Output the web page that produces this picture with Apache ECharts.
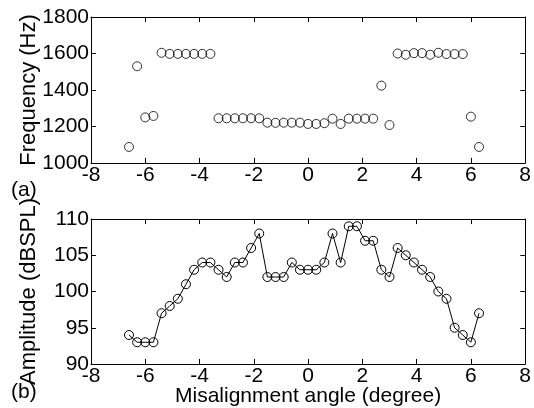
<!DOCTYPE html>
<html>
<head>
<meta charset="utf-8">
<script src="https://cdn.jsdelivr.net/npm/echarts@6/dist/echarts.min.js"></script>
<style>
  html, body { margin: 0; padding: 0; background: #fff; }
  #chart { width: 534px; height: 408px; }
</style>
</head>
<body>
<div id="chart"></div>
<script>
// misalignment angle (degree)
const angles = [-6.6, -6.3, -6.0, -5.7, -5.4, -5.1, -4.8, -4.5, -4.2, -3.9, -3.6,
  -3.3, -3.0, -2.7, -2.4, -2.1, -1.8, -1.5, -1.2, -0.9, -0.6, -0.3,
  0, 0.3, 0.6, 0.9, 1.2, 1.5, 1.8, 2.1, 2.4, 2.7, 3.0,
  3.3, 3.6, 3.9, 4.2, 4.5, 4.8, 5.1, 5.4, 5.7, 6.0, 6.3]

// (a) frequency, Hz
const frequency = [1088, 1530, 1250, 1258, 1604, 1598, 1598, 1598, 1598, 1598, 1598,
  1245, 1245, 1245, 1245, 1245, 1245, 1221, 1220, 1221, 1221, 1221,
  1214, 1214, 1218, 1243, 1214, 1243, 1243, 1243, 1243, 1424, 1208,
  1600, 1593, 1602, 1602, 1593, 1604, 1597, 1597, 1597, 1254, 1088]

// (b) amplitude, dBSPL
const amplitude = [94, 93, 93, 93, 97, 98, 99, 101, 103, 104, 104,
  103, 102, 104, 104, 106, 108, 102, 102, 102, 104, 103,
  103, 103, 104, 108, 104, 109, 109, 107, 107, 103, 102,
  106, 105, 104, 103, 102, 100, 99, 95, 94, 93, 97]

// tick positions
const angleTicks = [-6, -4, -2, 0, 2, 4, 6]
const freqTicks = [1200, 1400, 1600]
const ampTicks = [95, 100, 105]

const FONT = 'Liberation Sans, Arial, Helvetica, sans-serif'
const FS = 21
// inward tick length (~5px) expressed in each axis' units
const TICK_ANGLE = 0.18
const TICK_FREQ = 28
const TICK_AMP = 0.7

const chart = echarts.init(document.getElementById('chart'))

function axis(gridIndex, position, min, max, interval, opts) {
  const o = opts || {}
  return {
    type: 'value',
    gridIndex,
    position,
    min,
    max,
    interval,
    name: o.name || '',
    nameLocation: 'middle',
    nameGap: o.nameGap,
    nameMoveOverlap: false,
    nameTextStyle: { color: '#000', fontSize: position === 'left' ? 22 : FS, fontFamily: FONT },
    axisLine: { show: true, onZero: false, lineStyle: { color: '#000', width: 1 } },
    axisTick: { show: false },
    axisLabel: { show: !!o.labels, color: '#000', fontSize: FS, fontFamily: FONT, margin: 2, formatter: v => String(v) },
    splitLine: { show: false }
  }
}

// box ticks pointing into the plot on all four sides
function boxTicks(yMin, yMax, yTicks, yLen) {
  const d = []
  angleTicks.forEach(t => {
    d.push([{ coord: [t, yMin] }, { coord: [t, yMin + yLen] }])
    d.push([{ coord: [t, yMax] }, { coord: [t, yMax - yLen] }])
  })
  yTicks.forEach(v => {
    d.push([{ coord: [-8, v] }, { coord: [-8 + TICK_ANGLE, v] }])
    d.push([{ coord: [8, v] }, { coord: [8 - TICK_ANGLE, v] }])
  })
  return {
    silent: true,
    symbol: 'none',
    label: { show: false },
    lineStyle: { color: '#000', width: 1, type: 'solid' },
    data: d
  }
}

const xAxes = []
;[0, 1].forEach(g => {
  xAxes.push(axis(g, 'bottom', -8, 8, 2, {
    labels: true,
    name: g === 1 ? 'Misalignment angle (degree)' : '',
    nameGap: 22
  }))
  xAxes.push(axis(g, 'top', -8, 8, 2))
})

const yAxes = [
  axis(0, 'left', 1000, 1800, 200, { labels: true, name: 'Frequency (Hz)', nameGap: 51 }),
  axis(0, 'right', 1000, 1800, 200),
  axis(1, 'left', 90, 110, 5, { labels: true, name: 'Amplitude (dBSPL)', nameGap: 51 }),
  axis(1, 'right', 90, 110, 5)
]

const option = {
  animation: false,
  backgroundColor: '#fff',
  grid: [
    { left: 91, right: 4, top: 17, height: 146 },
    { left: 91, right: 4, top: 219, height: 145 }
  ],
  xAxis: xAxes,
  yAxis: yAxes,
  graphic: [
    { type: 'text', left: 11, top: 180, style: { text: '(a)', fill: '#000', fontSize: FS, fontFamily: FONT } },
    { type: 'text', left: 11, top: 382, style: { text: '(b)', fill: '#000', fontSize: FS, fontFamily: FONT } }
  ],
  series: [
    {
      type: 'scatter',
      xAxisIndex: 0,
      yAxisIndex: 0,
      data: angles.map((a, i) => [a, frequency[i]]),
      symbol: 'circle',
      symbolSize: 9,
      itemStyle: { color: 'rgba(255,255,255,0)', borderColor: '#000', borderWidth: 1 },
      markLine: boxTicks(1000, 1800, freqTicks, TICK_FREQ)
    },
    {
      type: 'line',
      xAxisIndex: 2,
      yAxisIndex: 2,
      data: angles.map((a, i) => [a, amplitude[i]]),
      symbol: 'circle',
      symbolSize: 9,
      showAllSymbol: true,
      lineStyle: { color: '#000', width: 1 },
      itemStyle: { color: 'rgba(255,255,255,0)', borderColor: '#000', borderWidth: 1 },
      markLine: boxTicks(90, 110, ampTicks, TICK_AMP)
    }
  ]
}

chart.setOption(option)
</script>
</body>
</html>
